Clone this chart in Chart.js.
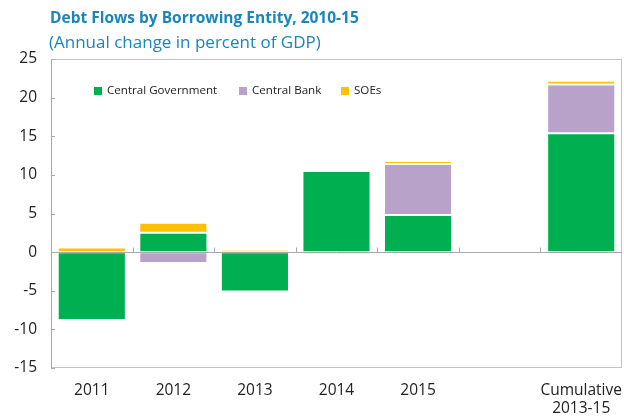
<!DOCTYPE html>
<html>
<head>
<meta charset="utf-8">
<title>Debt Flows by Borrowing Entity, 2010-15</title>
<script src="https://cdn.jsdelivr.net/npm/chart.js@4.4.1/dist/chart.umd.min.js"></script>
<style>
  html, body { margin: 0; padding: 0; background: #ffffff; }
  #wrap { width: 624px; height: 420px; position: relative; }
</style>
</head>
<body>
<div id="wrap"><canvas id="chart" width="624" height="420"></canvas></div>
<script>
// Categories (the empty slot separates the annual bars from the cumulative one)
const categories = ['2011', '2012', '2013', '2014', '2015', '', ['Cumulative', '2013-15']];

// Annual change in percent of GDP, by borrowing entity
const centralGovernment = [-8.8, 2.5, -5.1, 10.5, 4.8, null, 15.4];
const centralBank       = [-0.2, -1.4, -0.1, -0.3, 6.6, null, 6.3];
const soes              = [0.6, 1.3, 0.3, 0.2, 0.4, null, 0.5];

// Value axis ticks
const yTicks = [-15, -10, -5, 0, 5, 10, 15, 20, 25];

const titleText = 'Debt Flows by Borrowing Entity, 2010-15';
const subtitleText = '(Annual change in percent of GDP)';

const COLORS = {
  cg: '#00B050',
  cb: '#B9A2C9',
  soe: '#FFC000',
  title: '#1A86BA',
  text: '#222222',
  frame: '#C4C4C4',
  axis: '#A8A8A8'
};
const FONT = "'Open Sans', 'Noto Sans', sans-serif";

// Titles, frame, zero line, inward tick marks and the in-plot legend
const decorations = {
  id: 'decorations',
  beforeDatasetsDraw(chart) {
    const { ctx, chartArea: a } = chart;
    ctx.save();
    ctx.strokeStyle = COLORS.frame;
    ctx.lineWidth = 1;
    ctx.strokeRect(a.left + 0.5, a.top + 0.5, a.right - a.left - 1, a.bottom - a.top - 1);
    ctx.strokeStyle = COLORS.axis;
    ctx.beginPath();
    ctx.moveTo(a.left + 0.5, a.top);
    ctx.lineTo(a.left + 0.5, a.bottom);
    ctx.stroke();
    ctx.restore();
  },
  afterDatasetsDraw(chart) {
    const { ctx, chartArea: a, scales } = chart;
    const x = scales.x, y = scales.y;
    ctx.save();
    ctx.strokeStyle = COLORS.axis;
    ctx.lineWidth = 1;
    // zero line
    const y0 = Math.round(y.getPixelForValue(0)) + 0.5;
    ctx.beginPath();
    ctx.moveTo(a.left, y0);
    ctx.lineTo(a.right, y0);
    ctx.stroke();
    // category boundary ticks on the zero line
    for (let i = 0; i < categories.length - 1; i++) {
      const bx = Math.round((x.getPixelForTick(i) + x.getPixelForTick(i + 1)) / 2) + 0.5;
      ctx.beginPath();
      ctx.moveTo(bx, y0);
      ctx.lineTo(bx, y0 - 5);
      ctx.stroke();
    }
    // value ticks pointing into the plot
    yTicks.forEach(v => {
      const py = Math.round(y.getPixelForValue(v)) + 0.5;
      ctx.beginPath();
      ctx.moveTo(a.left, py);
      ctx.lineTo(a.left + 4, py);
      ctx.stroke();
    });
    ctx.restore();
  },
  afterDraw(chart) {
    const { ctx } = chart;
    ctx.save();
    ctx.fillStyle = COLORS.title;
    ctx.textBaseline = 'alphabetic';
    ctx.textAlign = 'left';
    ctx.font = `bold 15.5px ${FONT}`;
    ctx.fillText(titleText, 50, 23);
    ctx.font = `17px ${FONT}`;
    ctx.fillText(subtitleText, 49, 48);

    // legend
    const items = chart.data.datasets.map(d => ({ label: d.label, color: d.backgroundColor }));
    const xs = [94, 239, 341];
    ctx.font = `11.6px ${FONT}`;
    ctx.textBaseline = 'middle';
    items.forEach((it, i) => {
      ctx.fillStyle = it.color;
      ctx.fillRect(xs[i], 87, 8, 8);
      ctx.fillStyle = COLORS.text;
      ctx.fillText(it.label, xs[i] + 13, 91);
    });
    ctx.restore();
  }
};

const ds = (label, data, color) => ({
  label, data,
  backgroundColor: color,
  borderColor: 'rgba(255,255,255,0.45)',
  borderWidth: 1,
  borderSkipped: false,
  categoryPercentage: 1,
  barPercentage: 0.835
});

new Chart(document.getElementById('chart'), {
  type: 'bar',
  data: {
    labels: categories,
    datasets: [
      ds('Central Government', centralGovernment, COLORS.cg),
      ds('Central Bank', centralBank, COLORS.cb),
      ds('SOEs', soes, COLORS.soe)
    ]
  },
  options: {
    responsive: false,
    animation: false,
    devicePixelRatio: 1,
    layout: { padding: { top: 59, right: 2, left: 0, bottom: 0 } },
    plugins: {
      legend: { display: false },
      title: { display: false },
      tooltip: { enabled: false }
    },
    scales: {
      x: {
        stacked: true,
        grid: { display: false, drawTicks: false },
        border: { display: false },
        ticks: {
          color: COLORS.text,
          font: { family: FONT, size: 15.5 },
          padding: 13,
          maxRotation: 0,
          autoSkip: false
        },
        afterFit(scale) {
          scale.height = 52;
          scale.paddingLeft = 0;
          scale.paddingRight = 0;
        }
      },
      y: {
        stacked: true,
        min: -15,
        max: 25,
        afterBuildTicks(scale) { scale.ticks = yTicks.map(v => ({ value: v })); },
        grid: { display: false, drawTicks: false },
        border: { display: false },
        ticks: {
          color: COLORS.text,
          font: { family: FONT, size: 15.5 },
          padding: 14
        },
        afterFit(scale) { scale.width = 51; }
      }
    }
  },
  plugins: [decorations]
});
</script>
</body>
</html>
